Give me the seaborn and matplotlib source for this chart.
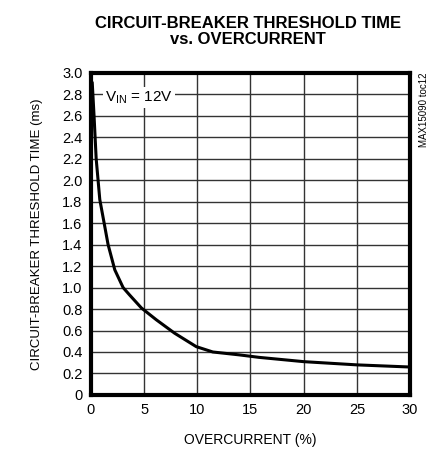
import numpy as np
import pandas as pd
import matplotlib
matplotlib.use('Agg')
import matplotlib.pyplot as plt
import seaborn as sns

sns.set_theme(style='white')
plt.rcParams['font.family'] = ['Liberation Sans Narrow', 'Liberation Sans', 'DejaVu Sans']
plt.rcParams['text.color'] = 'black'
plt.rcParams['axes.labelcolor'] = 'black'
plt.rcParams['xtick.color'] = 'black'
plt.rcParams['ytick.color'] = 'black'

# data
overcurrent = [0.13, 0.3, 0.5, 0.84, 1.25, 1.62, 2.25, 3.03, 3.65, 4.75, 6.15,
               7.87, 9.9, 11.46, 13.96, 15.8, 20, 25, 30]
threshold = [2.91, 2.6, 2.2, 1.82, 1.60, 1.40, 1.165, 1.00, 0.93, 0.81, 0.70,
             0.575, 0.45, 0.40, 0.373, 0.35, 0.31, 0.28, 0.26]
x_ticks = [0, 5, 10, 15, 20, 25, 30]
y_ticks = [0, 0.2, 0.4, 0.6, 0.8, 1.0, 1.2, 1.4, 1.6, 1.8, 2.0, 2.2, 2.4, 2.6, 2.8, 3.0]
y_labels = ['0'] + ['%.1f' % v for v in y_ticks[1:]]

df = pd.DataFrame({'overcurrent': overcurrent, 'threshold': threshold})

fig = plt.figure(figsize=(4.41, 4.55), dpi=100)
ax = fig.add_axes([0.206, 0.132, 0.724, 0.708])

sns.lineplot(data=df, x='overcurrent', y='threshold', ax=ax, color='black', lw=2.2)

ax.set_xlim(0, 30)
ax.set_ylim(0, 3.0)
ax.set_xticks(x_ticks)
ax.set_yticks(y_ticks)
ax.set_yticklabels(y_labels)
ax.grid(True, color='#333333', lw=1.0)
ax.tick_params(length=0, labelsize=10.5, pad=6)
for s in ax.spines.values():
    s.set_color('black')
    s.set_linewidth(3)

ax.set_xlabel('OVERCURRENT (%)', fontsize=10, labelpad=11)
ax.set_ylabel('CIRCUIT-BREAKER THRESHOLD TIME (ms)', fontsize=9.5, labelpad=14)

ax.text(1.35, 2.77, r'V$_{\mathregular{IN}}$ = 12V', fontsize=11, va='center', ha='left',
        bbox=dict(facecolor='white', edgecolor='none', pad=1.5))

fig.text(0.5625, 0.965, 'CIRCUIT-BREAKER THRESHOLD TIME\nvs. OVERCURRENT', ha='center', va='top',
         fontsize=12, fontweight='bold', linespacing=1.1)
fig.text(0.962, 0.84, 'MAX15090 toc12', rotation=90, ha='center', va='top', fontsize=7)

fig.savefig('out.png', dpi=100)
